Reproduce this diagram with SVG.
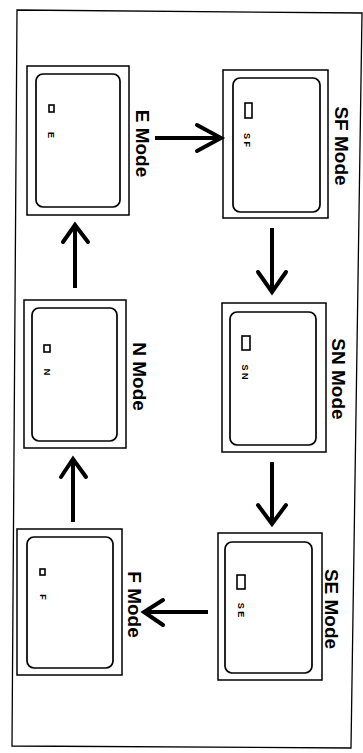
<svg xmlns="http://www.w3.org/2000/svg" width="363" height="753" viewBox="0 0 363 753">
<style>
.outer{fill:none;stroke:#000;stroke-width:1.5}
.inner{fill:none;stroke:#000;stroke-width:1.7}
.sq{fill:none;stroke:#000;stroke-width:1.6}
.lbl{font-family:"Liberation Sans",Arial,sans-serif;font-weight:bold;font-size:19px;fill:#000}
.sm{font-family:"Liberation Sans",Arial,sans-serif;font-weight:bold;font-size:9px;fill:#000}
.ln{fill:none;stroke:#000;stroke-width:4;stroke-linecap:butt}
.hd{fill:none;stroke:#000;stroke-width:4;stroke-linejoin:miter;stroke-linecap:round}
</style>
<rect width="363" height="753" fill="#fff"/>
<polygon points="17,10 362,13 351,748 12,746" fill="none" stroke="#000" stroke-width="1.3"/>

<g id="node-e">
<rect class="outer" x="27" y="66" width="102" height="149"/>
<rect class="inner" x="36" y="74" width="84" height="133" rx="7"/>
<rect class="sq" x="49" y="105" width="5" height="7"/>
<text class="sm" transform="translate(47.5,135) rotate(90)" text-anchor="middle">E</text>
<text class="lbl" transform="translate(136,143.5) rotate(90)" text-anchor="middle">E Mode</text>
</g>

<g id="node-sf">
<rect class="outer" x="223" y="70" width="105" height="148"/>
<rect class="inner" x="233" y="78" width="87" height="134" rx="7"/>
<rect class="sq" x="245" y="103" width="7" height="15"/>
<text class="sm" transform="translate(243.5,140) rotate(90)" text-anchor="middle" xml:space="preserve">S F</text>
<text class="lbl" transform="translate(335,146) rotate(90)" text-anchor="middle">SF Mode</text>
</g>

<g id="node-n">
<rect class="outer" x="24" y="300" width="102" height="148"/>
<rect class="inner" x="32" y="308" width="85" height="133" rx="7"/>
<rect class="sq" x="44" y="345" width="6" height="7"/>
<text class="sm" transform="translate(43.5,372) rotate(90)" text-anchor="middle">N</text>
<text class="lbl" transform="translate(133,376.5) rotate(90)" text-anchor="middle">N Mode</text>
</g>

<g id="node-sn">
<rect class="outer" x="222" y="303" width="104" height="149"/>
<rect class="inner" x="230" y="312" width="86" height="133" rx="7"/>
<rect class="sq" x="242" y="336" width="8" height="14"/>
<text class="sm" transform="translate(241.5,372) rotate(90)" text-anchor="middle" xml:space="preserve">S N</text>
<text class="lbl" transform="translate(332,379) rotate(90)" text-anchor="middle">SN Mode</text>
</g>

<g id="node-f">
<rect class="outer" x="17" y="529" width="105" height="146"/>
<rect class="inner" x="27" y="537" width="86" height="131" rx="7"/>
<rect class="sq" x="40" y="569" width="5" height="6"/>
<text class="sm" transform="translate(39.5,597) rotate(90)" text-anchor="middle">F</text>
<text class="lbl" transform="translate(128,604.5) rotate(90)" text-anchor="middle">F Mode</text>
</g>

<g id="node-se">
<rect class="outer" x="218" y="533" width="104" height="147"/>
<rect class="inner" x="225" y="542" width="87" height="131" rx="7"/>
<rect class="sq" x="237" y="575" width="8" height="14"/>
<text class="sm" transform="translate(237.5,610) rotate(90)" text-anchor="middle" xml:space="preserve">S E</text>
<text class="lbl" transform="translate(325,609) rotate(90)" text-anchor="middle">SE Mode</text>
</g>

<g id="connectors">
<line class="ln" x1="155" y1="138" x2="220" y2="138"/>
<polyline class="hd" points="197,125 221,138 197,151"/>

<line class="ln" x1="272" y1="228" x2="272" y2="291"/>
<polyline class="hd" points="258,272 272,292 286,272"/>

<line class="ln" x1="272" y1="462" x2="272" y2="523"/>
<polyline class="hd" points="258,505 272,524 286,505"/>

<line class="ln" x1="208" y1="612" x2="145" y2="612"/>
<polyline class="hd" points="163,600 144,612 163,625"/>

<line class="ln" x1="73" y1="522" x2="73" y2="460"/>
<polyline class="hd" points="61,477 73,459 86,477"/>

<line class="ln" x1="75" y1="288" x2="75" y2="226"/>
<polyline class="hd" points="63,242 75,225 88,242"/>
</g>
</svg>
